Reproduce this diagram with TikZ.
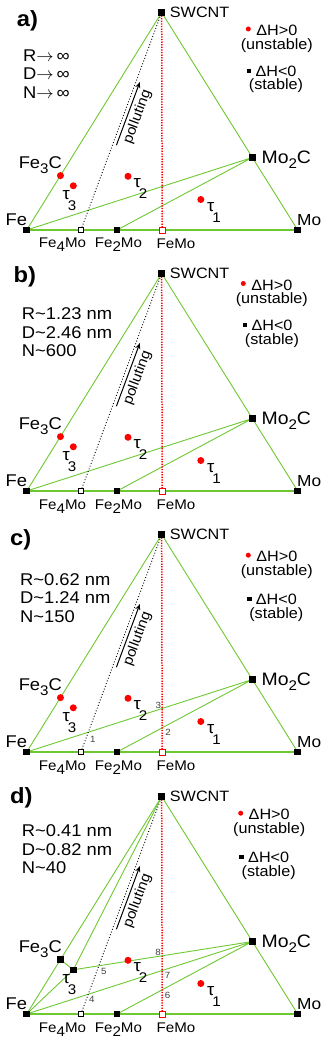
\documentclass[tikz,border=0pt]{standalone}
\usepackage{fontspec}
\setmainfont{Liberation Sans}[FakeStretch=1.08]
\usetikzlibrary{calc,arrows.meta}

\definecolor{tiegreen}{RGB}{110,200,50}

\newcommand{\lowsub}[2][5pt]{\raisebox{-#1}{\fontsize{14}{14}\selectfont #2}}
\newcommand{\tausub}[1]{τ\kern-2pt\raisebox{-11pt}{\fontsize{14}{14}\selectfont #1}}
\newcommand{\tendsto}{$\rightarrow$\kern3pt}

\tikzset{
  tie/.style={draw=tiegreen, line width=0.9pt},
  binary/.style={draw=tiegreen, line width=2pt},
  stable/.style={rectangle, fill=black, minimum size=6.5pt, inner sep=0pt},
  openstable/.style={rectangle, draw=black, fill=white, line width=0.9pt, minimum size=5.5pt, inner sep=0pt},
  openred/.style={rectangle, draw=red, fill=white, line width=1pt, minimum size=6pt, inner sep=0pt},
  unstable/.style={circle, fill=red, minimum size=7pt, inner sep=0pt},
  lbl/.style={inner sep=0pt, font=\fontsize{17}{17}\selectfont},
  sublbl/.style={inner sep=0pt, anchor=base, font=\fontsize{14}{14}\selectfont},
  legtxt/.style={inner sep=0pt, align=center, anchor=north, font=\fontsize{15}{13.5}\selectfont},
  conds/.style={inner sep=0pt, align=left, anchor=north west, font=\fontsize{17}{18.3}\selectfont},
  panelname/.style={inner sep=0pt, anchor=base west, font=\fontsize{22}{22}\selectfont\bfseries},
  crossno/.style={inner sep=0pt, text=black!75, font=\fontsize{9}{9}\selectfont},
}

% corners, compounds, ties and polluting direction
\newcommand{\ternbase}{%
  \coordinate (S) at (161.7,0);
  \coordinate (Fe) at (26.7,217.5);
  \coordinate (Mo) at (297.7,217.5);
  \coordinate (Fe3C) at (barycentric cs:Fe=3,S=1);
  \coordinate (Mo2C) at (barycentric cs:Mo=2,S=1);
  \coordinate (Fe4Mo) at (barycentric cs:Fe=4,Mo=1);
  \coordinate (Fe2Mo) at (barycentric cs:Fe=2,Mo=1);
  \coordinate (FeMo) at (barycentric cs:Fe=1,Mo=1);
  \coordinate (t1) at (200.8,187);
  \coordinate (t2) at (128,163.8);
  \coordinate (t3) at (73.3,173.3);
  \draw[tie] (Fe) -- (S) -- (Mo);
  \draw[binary] (Fe) -- (Mo);
  \draw[tie] (Fe) -- (Mo2C) -- (Fe2Mo);
  \draw[dotted, line width=0.9pt] (Fe4Mo) -- (S);
  \draw[red, line width=1.5pt, dash pattern=on 1.3pt off 1.3pt] (FeMo) -- (S);
  \draw[-{Stealth[length=6pt,width=5pt]}, line width=1pt]
    ($(Fe4Mo)!0.39!(S)+(4,0)$) -- ($(Fe4Mo)!0.68!(S)+(4,0)$)
    node[midway, sloped, below=3pt, inner sep=0pt, font=\fontsize{14}{14}\selectfont] (pol) {polluting};
}

% markers and labels
\newcommand{\ternmarks}{%
  \node[stable] (mS) at (S) {};
  \node[stable] (mFe) at (Fe) {};
  \node[stable] (mMo) at (Mo) {};
  \node[stable] (mMo2C) at (Mo2C) {};
  \node[stable] (mFe2Mo) at (Fe2Mo) {};
  \node[openstable] (mFe4Mo) at (Fe4Mo) {};
  \node[openred] (mFeMo) at (FeMo) {};
  \node[unstable] (mt1) at (t1) {};
  \node[unstable] (mt2) at (t2) {};
  \node[lbl, anchor=west, font=\fontsize{15}{15}\selectfont] (lS) at ($(S)+(8,0)$) {SWCNT};
  \node[lbl, anchor=base east] (lFe) at ($(Fe)+(0.5,-5)$) {Fe};
  \node[lbl, anchor=base west, font=\fontsize{16}{16}\selectfont] (lMo) at ($(Mo)+(-0.7,-5)$) {Mo};
  \node[lbl, anchor=base east] (lFe3C) at ($(Fe3C)+(1.6,-7.5)$) {Fe\lowsub{3}C};
  \node[lbl, anchor=base west, font=\fontsize{18}{18}\selectfont] (lMo2C) at ($(Mo2C)+(9,5.6)$) {Mo\lowsub{2}C};
  \node[sublbl] (lFe4Mo) at ($(Fe4Mo)+(-18.4,18)$) {Fe\lowsub[4pt]{4}Mo};
  \node[sublbl] (lFe2Mo) at ($(Fe2Mo)+(1.4,18)$) {Fe\lowsub[4pt]{2}Mo};
  \node[sublbl] (lFeMo) at ($(FeMo)+(13.8,18)$) {FeMo};
  \node[lbl, anchor=north west] (lt1) at ($(t1)+(6,2.7)$) {\tausub{1}};
  \node[lbl, anchor=north west] (lt2) at ($(t2)+(5.3,2.3)$) {\tausub{2}};
  \node[lbl, anchor=north west] (lt3) at ($(t3)+(-11,5)$) {\tausub{3}};
}

% legend: dot x, dot y, square x, square y
\newcommand{\stabkey}[4]{%
  \node[unstable, minimum size=5pt] (kU) at (#1,#2) {};
  \node[legtxt] (kUt) at ($(kU)+(28.5,-4)$) {ΔH>0\\(unstable)};
  \node[stable, minimum size=4.5pt] (kS) at (#3,#4) {};
  \node[legtxt] (kSt) at ($(kS)+(27,-5.3)$) {ΔH<0\\(stable)};
}

\begin{document}
\begin{tikzpicture}[x=1pt, y=-1pt]
  \useasboundingbox (0,0) rectangle (331,1046);

  % a) infinite particle
  \begin{scope}[shift={(0,12.5)}]
    \ternbase
    \ternmarks
    \node[unstable] (mFe3C) at (Fe3C) {};
    \node[unstable] (mt3) at (t3) {};
    \node[panelname] (tag) at (16.7,14) {a)};
    \node[conds] (cond) at (23,37.3) {R\tendsto ∞\\D\tendsto ∞\\N\tendsto ∞};
    \stabkey{248.3}{16.5}{249}{58.3}
  \end{scope}

  % b) R~1.23 nm
  \begin{scope}[shift={(0,273.5)}]
    \ternbase
    \ternmarks
    \node[unstable] (mFe3C) at (Fe3C) {};
    \node[unstable] (mt3) at (t3) {};
    \node[panelname] (tag) at (13.3,9.3) {b)};
    \node[conds] (cond) at (21.7,34.3) {R\textasciitilde 1.23 nm\\D\textasciitilde 2.46 nm\\N\textasciitilde 600};
    \stabkey{243.3}{10}{245}{51.7}
  \end{scope}

  % c) R~0.62 nm
  \begin{scope}[shift={(0,534.5)}]
    \ternbase
    \ternmarks
    \node[unstable] (mFe3C) at (Fe3C) {};
    \node[unstable] (mt3) at (t3) {};
    \coordinate (c1) at (intersection of Fe--Mo2C and Fe4Mo--S);
    \coordinate (c2) at (intersection of Fe2Mo--Mo2C and FeMo--S);
    \coordinate (c3) at (intersection of Fe--Mo2C and FeMo--S);
    \node[crossno] (n1) at ($(c1)+(4.5,7)$) {1};
    \node[crossno] (n2) at ($(c2)+(6,4.7)$) {2};
    \node[crossno] (n3) at ($(c3)+(-3.7,-3)$) {3};
    \node[panelname] (tag) at (10,10.7) {c)};
    \node[conds] (cond) at (20,39) {R\textasciitilde 0.62 nm\\D\textasciitilde 1.24 nm\\N\textasciitilde 150};
    \stabkey{248.3}{20.7}{249.3}{64.7}
  \end{scope}

  % d) R~0.41 nm, Fe3C and tau3 stable
  \begin{scope}[shift={(0,796.5)}]
    \ternbase
    \draw[tie] (Fe) -- (t3) -- (Mo2C);
    \draw[tie] (Fe3C) -- (t3) -- (S);
    \ternmarks
    \node[stable] (mFe3C) at (Fe3C) {};
    \node[stable] (mt3) at (t3) {};
    \coordinate (c4) at (intersection of Fe--Mo2C and Fe4Mo--S);
    \coordinate (c5) at (intersection of t3--Mo2C and Fe4Mo--S);
    \coordinate (c6) at (intersection of Fe2Mo--Mo2C and FeMo--S);
    \coordinate (c7) at (intersection of Fe--Mo2C and FeMo--S);
    \coordinate (c8) at (intersection of t3--Mo2C and FeMo--S);
    \node[crossno] (n4) at ($(c4)+(3.5,5.6)$) {4};
    \node[crossno] (n5) at ($(c5)+(5,5.7)$) {5};
    \node[crossno] (n6) at ($(c6)+(5.5,6)$) {6};
    \node[crossno] (n7) at ($(c7)+(5.5,5.3)$) {7};
    \node[crossno] (n8) at ($(c8)+(-4,-3.8)$) {8};
    \node[panelname] (tag) at (10,7.3) {d)};
    \node[conds] (cond) at (21.7,28.3) {R\textasciitilde 0.41 nm\\D\textasciitilde 0.82 nm\\N\textasciitilde 40};
    \stabkey{240.7}{16.7}{241.7}{60.7}
  \end{scope}
\end{tikzpicture}
\end{document}
